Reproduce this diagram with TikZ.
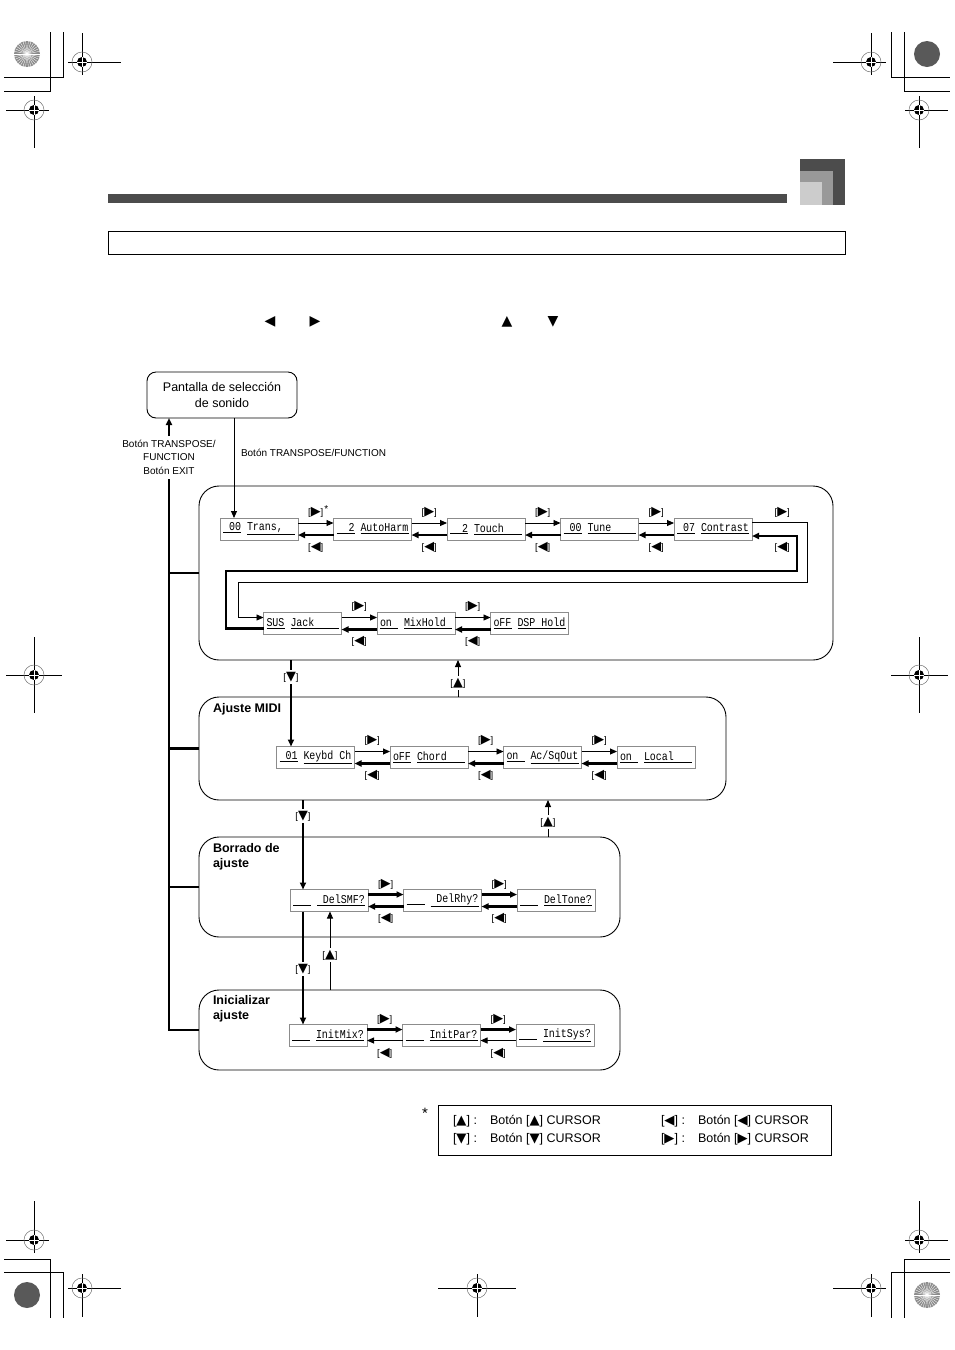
\documentclass[tikz,border=0pt]{standalone}
\usepackage{fontspec}
\usepackage{graphicx}
\setmainfont{Liberation Sans}
\newfontfamily\symfont{DejaVu Sans}
\newfontfamily\lcdfont[FakeStretch=0.83]{Liberation Mono}
\usetikzlibrary{positioning,arrows.meta}

\newcommand{\kR}{\scalebox{1.35}{\symfont ▶}}
\newcommand{\kL}{\scalebox{1.35}{\symfont ◀}}
\newcommand{\kU}{\scalebox{1.35}{\symfont ▲}}
\newcommand{\kD}{\scalebox{1.35}{\symfont ▼}}
\newcommand{\sR}{\scalebox{1.05}{\symfont ▶}}
\newcommand{\sL}{\scalebox{1.05}{\symfont ◀}}
\newcommand{\sU}{\scalebox{1.05}{\symfont ▲}}
\newcommand{\sD}{\scalebox{1.05}{\symfont ▼}}
\newcommand{\lcd}[2]{\underline{\makebox[18pt][l]{#1}}\hspace{6pt}\underline{\makebox[48pt][l]{#2}}}

\newcommand{\regtarget}[6]{%
    \draw[line width=0.8pt] (#3,#2) -- (#4,#2) (#1,#5) -- (#1,#6);
    \draw[black!55, line width=0.5pt] (#1,#2) circle[radius=10];
    \fill (#1,#2) circle[radius=5];
    \draw[white, line width=0.7pt] (#1-5,#2) -- (#1+5,#2) (#1,#2-5) -- (#1,#2+5);
}
\newcommand{\spiral}[3]{%
    \fill[#3] (#1,#2) circle[radius=13];
    \foreach \ang in {0,12,...,348}
        \draw[white, line width=0.35pt] (#1,#2) -- +(\ang:13);
}

\tikzset{
    every node/.style = {
        inner sep = 0pt,
        outer sep = 0pt
    },
    lcd/.style = {
        draw = black!45,
        line width = 0.8pt,
        minimum width = 78pt,
        minimum height = 22pt,
        font = \lcdfont\fontsize{12}{12}\selectfont
    },
    grp/.style = {
        draw,
        line width = 0.9pt,
        rounded corners = 20pt
    },
    screen/.style = {
        draw,
        line width = 0.9pt,
        rounded corners = 9pt,
        align = center,
        minimum width = 150pt,
        minimum height = 46pt,
        font = \fontsize{12.5}{15.5}\selectfont
    },
    grptitle/.style = {
        anchor = north west,
        align = left,
        font = \bfseries\fontsize{12.5}{15.5}\selectfont
    },
    keylbl/.style = {
        inner sep = 1pt,
        font = \fontsize{9.5}{9.5}\selectfont
    },
    cutlbl/.style = {
        keylbl,
        fill = white,
        inner sep = 2pt
    },
    fwd/.style = {
        -{Triangle[length=7pt,width=6pt]},
        line width = 0.9pt
    },
    back/.style = {
        -{Triangle[length=7pt,width=6pt]},
        line width = 2.2pt
    },
    bus/.style = {
        line width = 2.2pt
    },
    legtext/.style = {
        anchor = west,
        font = \fontsize{12.5}{14}\selectfont
    }
}

\begin{document}
\begin{tikzpicture}[x=1pt, y=-1pt, node distance=35.5pt]
    \useasboundingbox (0,0) rectangle (954,1350);

    % page marks
    \spiral{27}{54}{black!45}
    \fill[black!65] (927,54) circle[radius=13];
    \fill[black!65] (27,1295) circle[radius=13];
    \spiral{927}{1295}{black!45}
    \draw[line width=0.8pt] (50,32) -- (50,91) -- (4,91) (63,32) -- (63,77) -- (4,77);
    \draw[line width=0.8pt] (904,32) -- (904,91) -- (950,91) (891,32) -- (891,77) -- (950,77);
    \draw[line width=0.8pt] (4,1259) -- (50,1259) -- (50,1318) (4,1272) -- (63,1272) -- (63,1318);
    \draw[line width=0.8pt] (950,1259) -- (904,1259) -- (904,1318) (950,1272) -- (891,1272) -- (891,1318);
    \regtarget{82}{62}{68}{121}{33}{75}
    \regtarget{34}{110}{6}{49}{96}{148}
    \regtarget{871}{62}{833}{886}{33}{75}
    \regtarget{919}{110}{905}{948}{96}{148}
    \regtarget{34}{675}{6}{62}{637}{713}
    \regtarget{919}{675}{891}{948}{637}{713}
    \regtarget{34}{1240}{6}{49}{1201}{1253}
    \regtarget{82}{1288}{68}{121}{1274}{1317}
    \regtarget{477}{1288}{438}{516}{1274}{1317}
    \regtarget{919}{1240}{905}{948}{1201}{1253}
    \regtarget{871}{1288}{833}{886}{1274}{1317}

    % header
    \fill[black!70] (108,194) rectangle (787,203);
    \fill[black!70] (800,159) rectangle (845,205);
    \fill[black!40] (800,171) rectangle (833,205);
    \fill[black!20] (800,182) rectangle (822,205);
    \draw[line width=0.9pt] (108,231) rectangle (845,254);
    \node[font=\symfont\fontsize{14}{14}\selectfont] (tl) at (270,322) {◀};
    \node[font=\symfont\fontsize{14}{14}\selectfont] (tr) at (315,322) {▶};
    \node[font=\symfont\fontsize{14}{14}\selectfont] (tu) at (507,322) {▲};
    \node[font=\symfont\fontsize{14}{14}\selectfont] (td) at (553,322) {▼};

    % groups
    \node[grp, minimum width=634pt, minimum height=174pt] (setup) at (516,573) {};
    \node[grp, minimum width=527pt, minimum height=103pt] (midi) at (462.5,748.5) {};
    \node[grp, minimum width=421pt, minimum height=100pt] (borrado) at (409.5,887) {};
    \node[grp, minimum width=421pt, minimum height=80pt] (init) at (409.5,1030) {};
    \node[grptitle] (tmidi) at (213,703) {Ajuste MIDI};
    \node[grptitle] (tborrado) at (213,843) {Borrado de\\ajuste};
    \node[grptitle] (tinit) at (213,995) {Inicializar\\ajuste};

    % start screen
    \node[screen] (pantalla) at (222,395) {Pantalla de selección\\de sonido};
    \node[anchor=west, font=\fontsize{10}{12}\selectfont] (tflbl) at (241,453) {Botón TRANSPOSE/FUNCTION};
    \node[align=center, font=\fontsize{10}{13.5}\selectfont] (exitlbl) at (169,457) {Botón TRANSPOSE/\\FUNCTION\\Botón EXIT};
    \coordinate (extop) at (169,436);
    \coordinate (exbot) at (169,479);

    % displays
    \node[lcd] (trans) at (259,529) {\lcd{\hfill00}{Trans,}};
    \node[lcd, right=of trans] (autoharm) {\lcd{\hfill2}{AutoHarm}};
    \node[lcd, right=of autoharm] (touch) {\lcd{\hfill2}{Touch}};
    \node[lcd, right=of touch] (tune) {\lcd{\hfill00}{Tune}};
    \node[lcd, right=of tune] (contrast) {\lcd{\hfill07}{Contrast}};
    \node[lcd] (sus) at (302.5,623.5) {\lcd{SUS}{Jack}};
    \node[lcd, right=of sus] (mixhold) {\lcd{on}{MixHold}};
    \node[lcd, right=of mixhold] (dsphold) {\lcd{oFF}{DSP Hold}};
    \node[lcd] (keybd) at (315.5,757.5) {\lcd{\hfill01}{Keybd Ch}};
    \node[lcd, right=of keybd] (chord) {\lcd{oFF}{Chord}};
    \node[lcd, right=of chord] (acsq) {\lcd{on}{Ac/SqOut}};
    \node[lcd, right=of acsq] (local) {\lcd{on}{Local}};
    \node[lcd] (delsmf) at (329,900.5) {\lcd{}{\ DelSMF?}};
    \node[lcd, right=of delsmf] (delrhy) {\lcd{}{\ DelRhy?}};
    \node[lcd, right=of delrhy] (deltone) {\lcd{}{DelTone?}};
    \node[lcd] (initmix) at (328,1035.5) {\lcd{}{InitMix?}};
    \node[lcd, right=of initmix] (initpar) {\lcd{}{InitPar?}};
    \node[lcd, right=of initpar] (initsys) {\lcd{}{InitSys?}};

    % chains
    \foreach \a/\b in {trans/autoharm, autoharm/touch, touch/tune, tune/contrast,
                       sus/mixhold, mixhold/dsphold,
                       keybd/chord, chord/acsq, acsq/local} {
        \draw[fwd] ([yshift=6pt]\a.east) -- ([yshift=6pt]\b.west);
        \draw[back] ([yshift=-6pt]\b.west) -- ([yshift=-6pt]\a.east);
        \path (\a.east) -- (\b.west)
            node[keylbl, midway, yshift=17pt] (r-\a) {[\kR]}
            node[keylbl, midway, yshift=-18pt] (l-\a) {[\kL]};
    }
    \foreach \a/\b in {delsmf/delrhy, delrhy/deltone} {
        \draw[back] ([yshift=6pt]\a.east) -- ([yshift=6pt]\b.west);
        \draw[back] ([yshift=-6pt]\b.west) -- ([yshift=-6pt]\a.east);
        \path (\a.east) -- (\b.west)
            node[keylbl, midway, yshift=16pt] (r-\a) {[\kR]}
            node[keylbl, midway, yshift=-18pt] (l-\a) {[\kL]};
    }
    \foreach \a/\b in {initmix/initpar, initpar/initsys} {
        \draw[back] ([yshift=6pt]\a.east) -- ([yshift=6pt]\b.west);
        \draw[fwd] ([yshift=-5pt]\b.west) -- ([yshift=-5pt]\a.east);
        \path (\a.east) -- (\b.west)
            node[keylbl, midway, yshift=16pt] (r-\a) {[\kR]}
            node[keylbl, midway, yshift=-18pt] (l-\a) {[\kL]};
    }
    \node[anchor=north west, font=\fontsize{10}{10}\selectfont] (ast) at (r-trans.north east) {*};

    % loop from Contrast back to SUS Jack
    \path (contrast.east) -- (807,529) node[keylbl, pos=0.55, yshift=17pt] (r-contrast) {[\kR]}
                                       node[keylbl, pos=0.55, yshift=-18pt] (l-contrast) {[\kL]};
    \coordinate (loopR) at (807,582);
    \coordinate (loopL) at (238,582);
    \coordinate (backL) at (226,571);
    \coordinate (backR) at (797,571);
    \draw[fwd] ([yshift=7pt]contrast.east) -| (loopR) -- (loopL) |- ([yshift=6pt]sus.west);
    \draw[back] ([yshift=-5pt]sus.west) -| (backL) -- (backR) |- ([yshift=-7pt]contrast.east);

    % screen <-> setup
    \coordinate (tf) at (234,453);
    \draw[fwd] (tf |- pantalla.south) -- (tf |- trans.north);
    \draw[back] (extop) -- (extop |- pantalla.south);
    \draw[bus] (exbot) |- (init.west);
    \foreach \g in {setup,midi,borrado}
        \draw[bus] (exbot |- \g.west) -- (\g.west);

    % between groups
    \coordinate (d1) at (291,677);
    \coordinate (u1) at (458,683);
    \coordinate (d2) at (303,816);
    \coordinate (u2) at (548,822);
    \coordinate (d3) at (303,969);
    \coordinate (u3) at (330,955);
    \draw[back] (d1 |- setup.south) -- (d1 |- keybd.north);
    \draw[fwd] (u1 |- midi.north) -- (u1 |- setup.south);
    \draw[back] (d2 |- midi.south) -- (d2 |- delsmf.north);
    \draw[fwd] (u2 |- borrado.north) -- (u2 |- midi.south);
    \draw[back] (d3 |- delsmf.south) -- (d3 |- initmix.north);
    \draw[fwd] (u3 |- init.north) -- (u3 |- delsmf.south);
    \node[cutlbl] (kd1) at (d1) {[\kD]};
    \node[cutlbl] (ku1) at (u1) {[\kU]};
    \node[cutlbl] (kd2) at (d2) {[\kD]};
    \node[cutlbl] (ku2) at (u2) {[\kU]};
    \node[cutlbl] (kd3) at (d3) {[\kD]};
    \node[cutlbl] (ku3) at (u3) {[\kU]};

    % legend
    \node[font=\fontsize{15}{15}\selectfont] (legast) at (425,1113) {*};
    \node[draw, line width=0.8pt, minimum width=393pt, minimum height=50pt] (legend) at (634.5,1130) {};
    \node[legtext] (lg1) at (453,1121) {[\sU] :};
    \node[legtext] (lg2) at (490,1121) {Botón [\sU] CURSOR};
    \node[legtext] (lg3) at (453,1139) {[\sD] :};
    \node[legtext] (lg4) at (490,1139) {Botón [\sD] CURSOR};
    \node[legtext] (lg5) at (661,1121) {[\sL] :};
    \node[legtext] (lg6) at (698,1121) {Botón [\sL] CURSOR};
    \node[legtext] (lg7) at (661,1139) {[\sR] :};
    \node[legtext] (lg8) at (698,1139) {Botón [\sR] CURSOR};
\end{tikzpicture}
\end{document}
